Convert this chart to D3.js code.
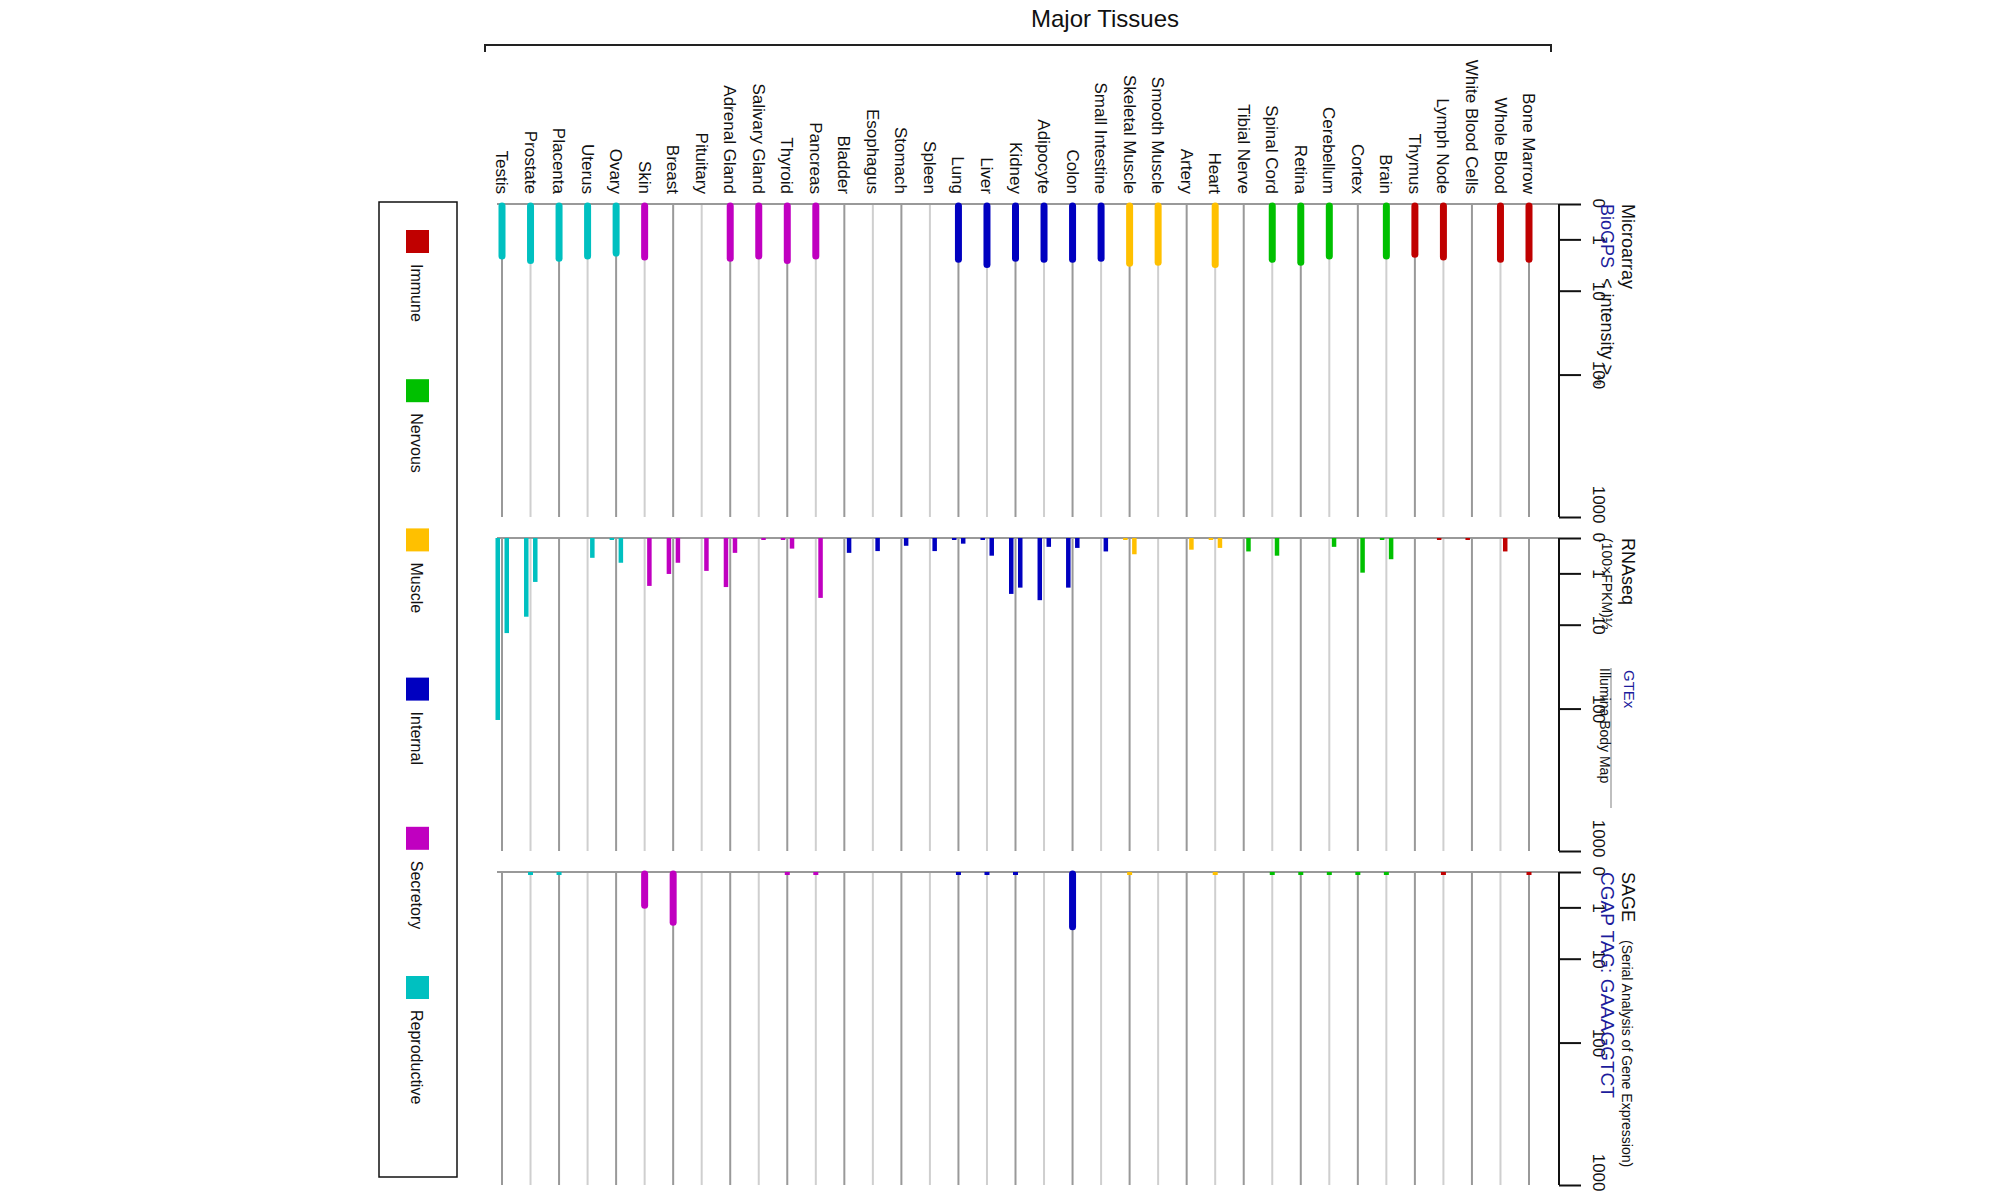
<!DOCTYPE html>
<html>
<head>
<meta charset="utf-8">
<script src="https://cdn.jsdelivr.net/npm/d3@7"></script>
<style>
  body { margin: 0; background: #fff; }
  text { font-family: "Liberation Sans", Arial, sans-serif; }
</style>
</head>
<body>
<div id="chart"></div>
<script>
var tissues = ["Testis", "Prostate", "Placenta", "Uterus", "Ovary", "Skin", "Breast", "Pituitary",
    "Adrenal Gland", "Salivary Gland", "Thyroid", "Pancreas", "Bladder", "Esophagus", "Stomach", "Spleen",
    "Lung", "Liver", "Kidney", "Adipocyte", "Colon", "Small Intestine", "Skeletal Muscle", "Smooth Muscle",
    "Artery", "Heart", "Tibial Nerve", "Spinal Cord", "Retina", "Cerebellum", "Cortex", "Brain",
    "Thymus", "Lymph Node", "White Blood Cells", "Whole Blood", "Bone Marrow"];

var groups = ["R", "R", "R", "R", "R", "S", "S", "S", "S", "S", "S", "S", "I", "I", "I", "I",
    "I", "I", "I", "I", "I", "I", "M", "M", "M", "M", "N", "N", "N", "N", "N", "N",
    "X", "X", "X", "X", "X"];

var legendNames = ["Immune", "Nervous", "Muscle", "Internal", "Secretory", "Reproductive"];
var legendKeys = ["X", "N", "M", "I", "S", "R"];
var legendColors = ["#c00000", "#00c000", "#ffc000", "#0000c0", "#c000c0", "#00c0c0"];

var microarray = [3.9, 4.7, 4.3, 3.9, 3.4, 4.1, null, null, 4.3, 3.9, 4.7, 3.9, null, null, null, null,
    4.5, 5.4, 4.3, 4.5, 4.5, 4.3, 5.2, 5.0, null, 5.4, null, 4.5, 5.0, 3.9, null, 3.9,
    3.6, 4.1, null, 4.5, 4.5];

var gtex = [172, 8.6, null, null, 0.03, null, 1.1, null, 3.4, null, 0.03, null, null, null, null, null,
    0.03, 0.03, 4.6, 5.7, 3.5, null, 0.03, null, null, 0.03, null, null, null, null, null, 0.03,
    null, 0.02, 0.02, null, null];

var bodyMap = [19, 2.5, null, 0.56, 0.7, 3.2, 0.7, 0.93, 0.42, 0.03, 0.3, 5.3, 0.42, 0.37, 0.22, 0.37,
    0.16, 0.5, 3.5, 0.25, 0.28, 0.38, 0.46, null, 0.33, 0.28, 0.38, 0.5, null, 0.25, 0.98, 0.6,
    null, null, null, 0.38, null];

var sage = [null, 0.02, 0.02, null, null, 0.94, 3.6, null, null, null, 0.02, 0.02, null, null, null, null,
    0.02, 0.02, 0.02, null, 4.4, null, 0.02, null, null, 0.02, null, 0.02, 0.02, 0.02, 0.02, 0.02,
    null, 0.02, null, null, 0.02];

var tickValues = [0, 1, 10, 100, 1000];
var tickFractions = [0, 0.113, 0.277, 0.545, 1];

var width = 2000, height = 1200;
var svg = d3.select("#chart").append("svg")
    .attr("width", width).attr("height", height);

var colorOf = d3.scaleOrdinal().domain(legendKeys).range(legendColors);

var x = d3.scalePoint().domain(tissues).range([502, 1529]);
var axisX = 1559;
var panelH = 313;
var panels = [{ top: 204 }, { top: 538 }, { top: 872 }];
panels.forEach(function(p) {
    p.y = d3.scaleLinear().domain(tickValues)
        .range(tickFractions.map(function(f) { return p.top + f * panelH; }));
});

// title + bracket
svg.append("text").text("Major Tissues")
    .attr("x", 1105).attr("y", 27).attr("text-anchor", "middle")
    .attr("font-size", 24).attr("fill", "#111");
svg.append("path")
    .attr("d", "M485,52V45H1551V52")
    .attr("fill", "none").attr("stroke", "#222").attr("stroke-width", 2);

// tissue labels
svg.selectAll(".tissue-label").data(tissues).enter().append("text")
    .attr("class", "tissue-label")
    .attr("transform", function(d) { return "translate(" + x(d) + ",194) rotate(90)"; })
    .attr("text-anchor", "end").attr("dy", "0.35em")
    .attr("font-size", 17).attr("fill", "#111")
    .text(function(d) { return d; });

function drawPanel(p) {
    var g = svg.append("g");
    g.selectAll(".grid").data(tissues).enter().append("line")
        .attr("x1", function(d) { return x(d); }).attr("x2", function(d) { return x(d); })
        .attr("y1", p.top).attr("y2", p.top + panelH)
        .attr("stroke", function(d, j) { return j % 2 ? "#cfcfcf" : "#999"; })
        .attr("stroke-width", 2);
    g.append("line").attr("x1", x(tissues[0]) - 5).attr("x2", axisX)
        .attr("y1", p.top).attr("y2", p.top)
        .attr("stroke", "#999").attr("stroke-width", 2);

    var axis = d3.axisRight(p.y).tickValues(tickValues).tickSize(22).tickPadding(6)
        .tickFormat(d3.format("d"));
    var ag = g.append("g").attr("transform", "translate(" + axisX + ",0)").call(axis);
    ag.select(".domain").attr("stroke", "#111").attr("stroke-width", 2)
        .attr("d", "M0," + p.top + "V" + (p.top + panelH));
    ag.selectAll(".tick line").attr("stroke", "#111").attr("stroke-width", 2);
    ag.selectAll(".tick text")
        .attr("transform", "rotate(90)").attr("x", 0).attr("y", -34).attr("dy", 0)
        .attr("text-anchor", "middle")
        .attr("font-size", 17).attr("fill", "#111")
        .style("font-family", "'Liberation Sans', Arial, sans-serif");
    ag.selectAll(".tick").filter(function(d) { return d === 0; }).select("text").attr("text-anchor", "start").attr("x", -6);
    ag.selectAll(".tick").filter(function(d) { return d === 1000; }).select("text").attr("text-anchor", "end").attr("x", 6);
    return g;
}

var g1 = drawPanel(panels[0]);
var g2 = drawPanel(panels[1]);
var g3 = drawPanel(panels[2]);

function thickBars(g, p, values) {
    var idx = d3.range(tissues.length).filter(function(i) { return values[i] != null; });
    g.selectAll(".bar").data(idx).enter().append("line")
        .attr("x1", function(i) { return x(tissues[i]); }).attr("x2", function(i) { return x(tissues[i]); })
        .attr("y1", function(i) { return values[i] < 0.1 ? p.top : p.top + 2; })
        .attr("y2", function(i) { return values[i] < 0.1 ? p.top + 3 : p.y(values[i]); })
        .attr("stroke", function(i) { return colorOf(groups[i]); })
        .attr("stroke-width", function(i) { return values[i] < 0.1 ? 5 : 7; })
        .attr("stroke-linecap", function(i) { return values[i] < 0.1 ? "butt" : "round"; });
}
thickBars(g1, panels[0], microarray);
thickBars(g3, panels[2], sage);

function thinBars(g, p, values, dx) {
    var idx = d3.range(tissues.length).filter(function(i) { return values[i] != null; });
    g.append("g").selectAll("rect").data(idx).enter().append("rect")
        .attr("x", function(i) { return x(tissues[i]) + dx - 2; })
        .attr("width", 4.5)
        .attr("y", p.top)
        .attr("height", function(i) { return Math.max(2, p.y(values[i]) - p.top); })
        .attr("fill", function(i) { return colorOf(groups[i]); });
}
thinBars(g2, panels[1], gtex, -4.5);
thinBars(g2, panels[1], bodyMap, 4.5);

// right-hand labels
function rlabel(txt, xx, yy, size, color) {
    return svg.append("text")
        .attr("transform", "translate(" + xx + "," + yy + ") rotate(90)")
        .attr("font-size", size).attr("fill", color).text(txt);
}
var blue = "#1c1c9c";
rlabel("Microarray", 1622, 204, 18, "#111");
var t1 = rlabel("BioGPS", 1601, 204, 18, blue);
t1.append("tspan").attr("fill", "#111").attr("dx", 10).text("< intensity >");
t1.append("tspan").attr("fill", "#111").attr("font-size", 12).attr("dy", 6).text("⅔");

rlabel("RNAseq", 1622, 538, 18, "#111");
rlabel("(100×FPKM)½", 1602, 538, 14, "#111");
rlabel("GTEx", 1624, 670, 15, blue);
svg.append("line").attr("x1", 1611).attr("x2", 1611).attr("y1", 668).attr("y2", 808)
    .attr("stroke", "#aaa").attr("stroke-width", 1.5);
rlabel("Illumina Body Map", 1600, 668, 14, "#111");

rlabel("SAGE", 1622, 872, 18, "#111");
rlabel("(Serial Analysis of Gene Expression)", 1622, 940, 14, "#111");
rlabel("CGAP TAG: GAAAGGTCT", 1601, 872, 19, blue);

// legend
svg.append("rect").attr("x", 379).attr("y", 202).attr("width", 78).attr("height", 975)
    .attr("fill", "none").attr("stroke", "#111").attr("stroke-width", 1.5);
var ly = d3.scalePoint().domain(legendNames).range([230, 976]);
var lg = svg.selectAll(".leg").data(legendNames).enter().append("g")
    .attr("transform", function(d) { return "translate(417," + ly(d) + ")"; });
lg.append("rect").attr("x", -11).attr("y", 0).attr("width", 23).attr("height", 23)
    .attr("fill", function(d, i) { return legendColors[i]; });
lg.append("text").attr("transform", "translate(0,34) rotate(90)")
    .attr("dy", "0.35em").attr("font-size", 16).attr("fill", "#111")
    .text(function(d) { return d; });
</script>
</body>
</html>
